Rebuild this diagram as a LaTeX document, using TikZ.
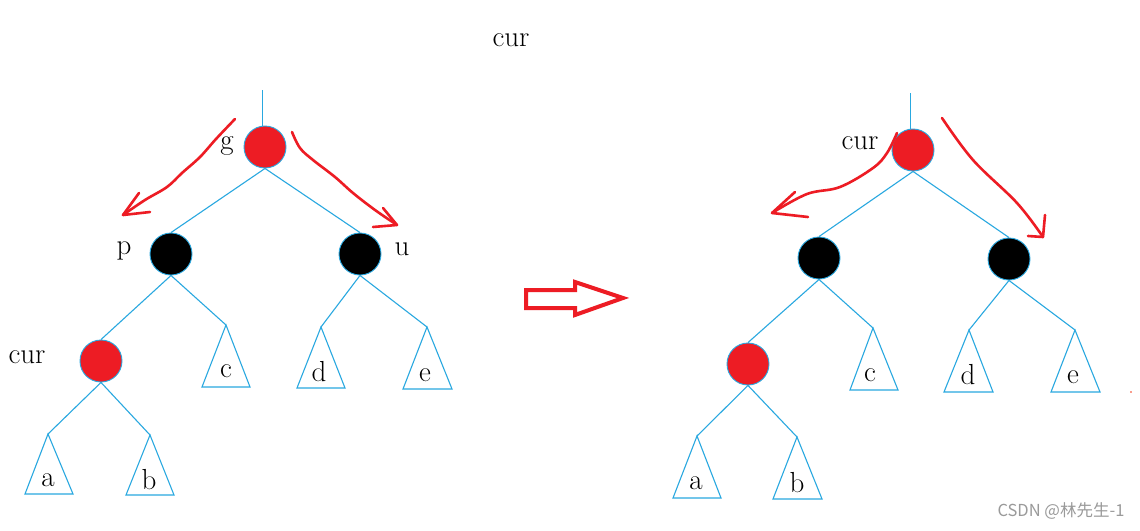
\documentclass[tikz,border=0pt]{standalone}
\usepackage{fontspec}
\newfontfamily\cjkfont{Noto Sans CJK SC}
\definecolor{treeblue}{HTML}{29A8E0}
\definecolor{paintred}{HTML}{ED1C24}
\definecolor{wmgray}{HTML}{9A9A9A}
\begin{document}
\begin{tikzpicture}[x=1pt,y=-1pt,
  edge/.style={draw=treeblue,line width=1.1pt},
  rednode/.style={circle,draw=treeblue,line width=0.9pt,fill=paintred,minimum size=42pt,inner sep=0pt},
  blacknode/.style={circle,draw=treeblue,line width=0.9pt,fill=black,minimum size=42pt,inner sep=0pt},
  lbl/.style={font=\fontsize{29}{34}\selectfont,inner sep=0pt},
  tri/.style={draw=treeblue,line width=1.1pt},
  stroke/.style={draw=paintred,line width=2.6pt,line cap=round,line join=round}
]
\useasboundingbox[fill=white] (0,0) rectangle (1140,530);

% ---------- left tree ----------
\node[rednode] (g) at (265,147) {};
\node[blacknode] (p) at (171,254) {};
\node[blacknode] (u) at (360,254) {};
\node[rednode] (x) at (101,361) {};
\coordinate (gtop) at (262.5,90);
\draw[edge] (gtop) -- (gtop |- g.north);
\draw[edge] (g.south) -- (p.north);
\draw[edge] (g.south) -- (u.north);
% subtrees
\coordinate (ta) at (48,434);
\coordinate (tb) at (150,435);
\coordinate (tc) at (226,325);
\coordinate (td) at (321,327);
\coordinate (te) at (427,327);
\draw[tri] (ta) -- (25,494) -- (73,494) -- cycle;
\draw[tri] (tb) -- (126,495) -- (174,495) -- cycle;
\draw[tri] (tc) -- (202,387) -- (250,387) -- cycle;
\draw[tri] (td) -- (297,388) -- (345,388) -- cycle;
\draw[tri] (te) -- (403,389) -- (452,389) -- cycle;
\draw[edge] (p.south) -- (x.north);
\draw[edge] (p.south) -- (tc);
\draw[edge] (u.south) -- (td);
\draw[edge] (u.south) -- (te);
\draw[edge] (x.south) -- (ta);
\draw[edge] (x.south) -- (tb);
\node[lbl] (la) at (48,480) {a};
\node[lbl] (lb) at (149,480) {b};
\node[lbl] (lc) at (226,371) {c};
\node[lbl] (ld) at (319,372) {d};
\node[lbl] (le) at (425,375) {e};
\node[lbl] (lg) at (227,146) {g};
\node[lbl] (lp) at (124,251) {p};
\node[lbl] (lu) at (402,249) {u};
\node[lbl] (lx) at (27,357) {cur};
\node[lbl] (ltop) at (511,40) {cur};

% red hand arrows (left)
\draw[stroke] plot[smooth,tension=0.6] coordinates {(235,119) (216,139) (200,157) (182,173) (167,187) (145,200) (123,215)};
\draw[stroke] (139,193) -- (123,215) -- (150,212);
\draw[stroke] plot[smooth,tension=0.6] coordinates {(292,132) (300,148) (313,160) (335,177) (353,193) (375,210) (397,225)};
\draw[stroke] (383,208) -- (397,225) -- (373,227);

% ---------- big arrow ----------
\draw[draw=paintred,line width=4pt,line join=miter] (526,290) -- (575,290) -- (575,282) -- (623,298) -- (575,315) -- (575,308) -- (526,308) -- cycle;

% ---------- right tree ----------
\node[rednode] (G) at (913,150) {};
\node[blacknode] (P) at (819,258) {};
\node[blacknode] (U) at (1009,259) {};
\node[rednode] (X) at (748,364) {};
\coordinate (Gtop) at (910.7,93);
\draw[edge] (Gtop) -- (Gtop |- G.north);
\draw[edge] (G.south) -- (P.north);
\draw[edge] (G.south) -- (U.north);
\coordinate (Ta) at (697,436);
\coordinate (Tb) at (797,437);
\coordinate (Tc) at (873,328);
\coordinate (Td) at (969,330);
\coordinate (Te) at (1075,330);
\draw[tri] (Ta) -- (673,498) -- (721,498) -- cycle;
\draw[tri] (Tb) -- (773,499) -- (822,499) -- cycle;
\draw[tri] (Tc) -- (850,390) -- (898,390) -- cycle;
\draw[tri] (Td) -- (944,392) -- (993,392) -- cycle;
\draw[tri] (Te) -- (1051,392) -- (1100,392) -- cycle;
\draw[edge] (P.south) -- (X.north);
\draw[edge] (P.south) -- (Tc);
\draw[edge] (U.south) -- (Td);
\draw[edge] (U.south) -- (Te);
\draw[edge] (X.south) -- (Ta);
\draw[edge] (X.south) -- (Tb);
\node[lbl] (La) at (696,483) {a};
\node[lbl] (Lb) at (797,483) {b};
\node[lbl] (Lc) at (870,375) {c};
\node[lbl] (Ld) at (968,375) {d};
\node[lbl] (Le) at (1073,377) {e};
\node[lbl] (LX) at (860,143) {cur};

\draw[stroke] plot[smooth,tension=0.6] coordinates {(897,133) (887,153) (873,168) (840,187) (807,194) (772,213)};
\draw[stroke] (795,192) -- (772,213) -- (808,217);
\draw[stroke] plot[smooth,tension=0.6] coordinates {(942,118) (973,160) (1017,203) (1043,237)};
\draw[stroke] (1045,215) -- (1043,237) -- (1028,236);

\fill[paintred!70!orange] (1131,392) circle (0.8pt);

% watermark
\node[font=\cjkfont\fontsize{16.5}{19}\selectfont,text=wmgray,inner sep=0pt] (wm) at (1061,511) {CSDN @林先生-1};
\end{tikzpicture}
\end{document}
